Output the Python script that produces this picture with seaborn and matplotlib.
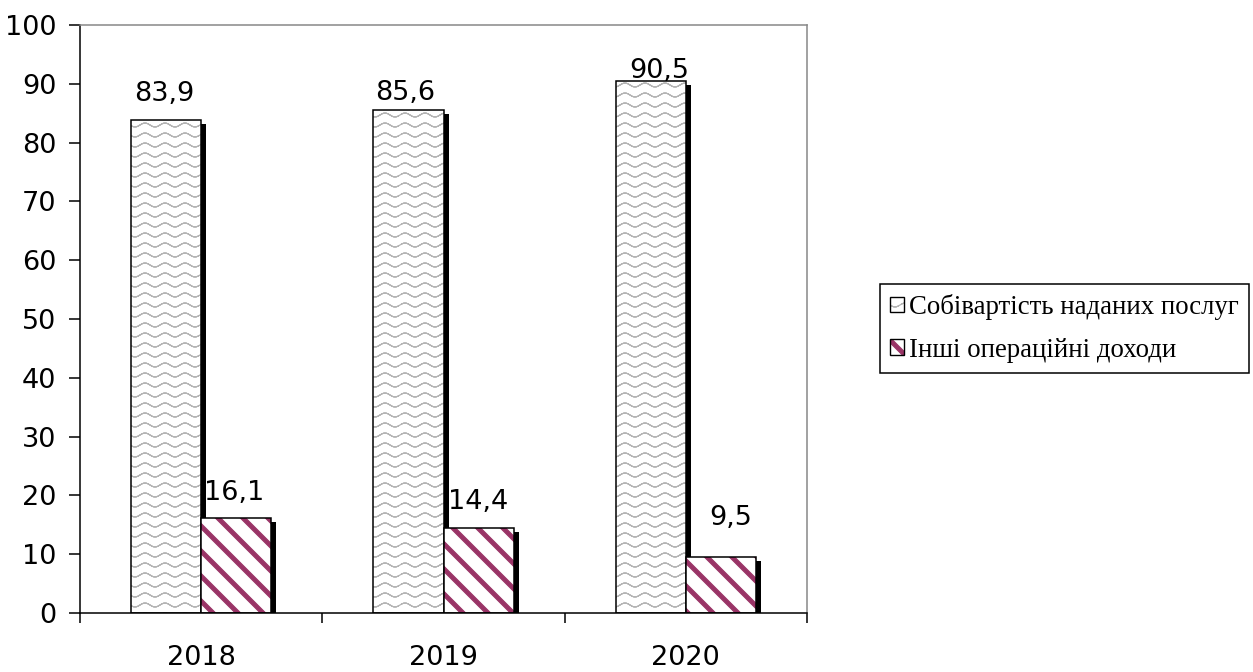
import numpy as np
import pandas as pd
import matplotlib
matplotlib.use("Agg")
import matplotlib.pyplot as plt
import matplotlib.hatch as mhatch
import matplotlib.patches as mpatches
import matplotlib.patheffects as pe
import matplotlib.colors as mcolors
from matplotlib.path import Path
import seaborn as sns

# ---------------- data ----------------
years = ["2018", "2019", "2020"]
series_names = ["Собівартість наданих послуг", "Інші операційні доходи"]
cost_values = [83.9, 85.6, 90.5]
other_income_values = [16.1, 14.4, 9.5]
y_ticks = [0, 10, 20, 30, 40, 50, 60, 70, 80, 90, 100]

# label offsets in points (dx, dy) for each series / bar
label_offsets = [
    [(-1.4, 13.7), (-2.2, 7.2), (6.5, 2.2)],
    [(-1.4, 13.0), (-0.7, 13.7), (7.2, 23.0)],
]

# ---------------- custom hatches (wave + thick stripes) ----------------
class WaveHatch(mhatch.HatchPatternBase):
    def __init__(self, hatch, density):
        self.n_rows = hatch.count("-") * 10
        self.periods = 5
        self.n_seg = self.periods * 10
        self.amp = 0.02
        self.num_vertices = self.n_rows * self.n_seg * 2

    def set_vertices_and_codes(self, vertices, codes):
        t = np.linspace(0, 1, self.n_seg + 1)
        idx = 0
        n = self.n_seg
        for i in range(self.n_rows):
            y0 = (i + 0.5) / self.n_rows
            ys = y0 + self.amp * np.sin(2 * np.pi * self.periods * t)
            vertices[idx:idx + 2 * n:2, 0] = t[:-1]
            vertices[idx:idx + 2 * n:2, 1] = ys[:-1]
            vertices[idx + 1:idx + 2 * n:2, 0] = t[1:]
            vertices[idx + 1:idx + 2 * n:2, 1] = ys[1:]
            codes[idx:idx + 2 * n:2] = Path.MOVETO
            codes[idx + 1:idx + 2 * n:2] = Path.LINETO
            idx += 2 * n


class StripeHatch(mhatch.HatchPatternBase):
    def __init__(self, hatch, density):
        self.num_lines = 8 if hatch.count("\\") else 0
        self.num_vertices = (self.num_lines + 1) * 5 if self.num_lines else 0

    def set_vertices_and_codes(self, vertices, codes):
        steps = np.linspace(-0.5, 0.5, self.num_lines + 1)
        e = 0.013
        for k, s in enumerate(steps):
            vertices[5 * k:5 * k + 5] = [
                [s - e, 1 + s - e], [1 + s - e, s - e],
                [1 + s + e, s + e], [s + e, 1 + s + e], [s - e, 1 + s - e]]
            codes[5 * k:5 * k + 5] = [Path.MOVETO, Path.LINETO, Path.LINETO,
                                      Path.LINETO, Path.CLOSEPOLY]


if hasattr(mhatch, "_hatch_types"):
    mhatch._hatch_types[:] = [
        WaveHatch if t is mhatch.HorizontalHatch
        else StripeHatch if t is mhatch.SouthEastHatch else t
        for t in mhatch._hatch_types]


def set_hatch_color(p, c):
    if hasattr(p, "set_hatchcolor"):
        p.set_hatchcolor(c)
    else:
        p._hatch_color = mcolors.to_rgba(c)


# ---------------- style ----------------
sns.set_style("white")
plt.rcParams["font.family"] = ["DejaVu Sans"]
plt.rcParams["hatch.linewidth"] = 0.9
plt.rcParams["text.color"] = "black"
plt.rcParams["xtick.color"] = "black"
plt.rcParams["ytick.color"] = "black"
plt.rcParams["xtick.labelcolor"] = "black"
plt.rcParams["ytick.labelcolor"] = "black"

hatches = ["-", "\\"]
hatch_colors = ["#b4b4b4", "#993366"]

df = pd.DataFrame({
    "year": years * 2,
    "series": [series_names[0]] * 3 + [series_names[1]] * 3,
    "value": cost_values + other_income_values,
})

fig = plt.figure(figsize=(12.53, 6.72), dpi=100)
ax = fig.add_axes([80 / 1253, 59 / 672, 727 / 1253, 588 / 672])

sns.barplot(data=df, x="year", y="value", hue="series", hue_order=series_names,
            order=years, palette=["white", "white"], width=0.58,
            edgecolor="black", linewidth=1.1, ax=ax, legend=False)

for ci, cont in enumerate(ax.containers):
    for bi, bar in enumerate(cont):
        bar.set_facecolor("white")
        bar.set_edgecolor("black")
        bar.set_hatch(hatches[ci])
        set_hatch_color(bar, hatch_colors[ci])
        bar.set_path_effects([
            pe.SimplePatchShadow(offset=(3.6, -2.9), shadow_rgbFace="black",
                                 alpha=1.0, hatch=None),
            pe.Normal()])
        h = bar.get_height()
        dx, dy = label_offsets[ci][bi]
        ax.annotate(f"{h:.1f}".replace(".", ","),
                    xy=(bar.get_x() + bar.get_width() / 2, h),
                    xytext=(dx, dy), textcoords="offset points",
                    ha="center", va="baseline", fontsize=19.5, color="black")

ax.set_xlim(-0.5, 2.5)
ax.set_ylim(0, 100)
ax.set_yticks(y_ticks)
ax.set_xlabel("")
ax.set_ylabel("")
ax.set_xticks(range(len(years)))
ax.set_xticklabels(years)
ax.set_xticks([-0.5, 0.5, 1.5, 2.5], minor=True)
ax.tick_params(axis="x", which="major", length=0, pad=23, labelsize=19.5,
               labelcolor="black")
ax.tick_params(axis="x", which="minor", length=7, width=1.1, color="black",
               direction="out", bottom=True)
ax.tick_params(axis="y", which="major", length=8, width=1.1, color="black",
               direction="out", left=True, pad=9, labelsize=19.5,
               labelcolor="black")

for side in ["left", "bottom"]:
    ax.spines[side].set_color("black")
    ax.spines[side].set_linewidth(1.1)
for side in ["top", "right"]:
    ax.spines[side].set_visible(True)
    ax.spines[side].set_color("#888888")
    ax.spines[side].set_linewidth(1.1)

# legend
handles = []
for ci, name in enumerate(series_names):
    hp = mpatches.Patch(facecolor="white", edgecolor="black", linewidth=1.0,
                        hatch=hatches[ci], label=name)
    set_hatch_color(hp, hatch_colors[ci])
    handles.append(hp)
leg = fig.legend(handles=handles, loc="upper left",
                 bbox_to_anchor=(880 / 1253, 1 - 284 / 672),
                 bbox_transform=fig.transFigure,
                 prop={"family": "Liberation Serif", "size": 19.3},
                 handlelength=0.5, handleheight=0.5, handletextpad=0.2,
                 labelspacing=0.65, borderpad=0.38, borderaxespad=0,
                 frameon=True, fancybox=False, shadow=False)
leg.get_frame().set_edgecolor("black")
leg.get_frame().set_linewidth(1.1)
leg.get_frame().set_alpha(1)

fig.savefig("out.png", dpi=100)
